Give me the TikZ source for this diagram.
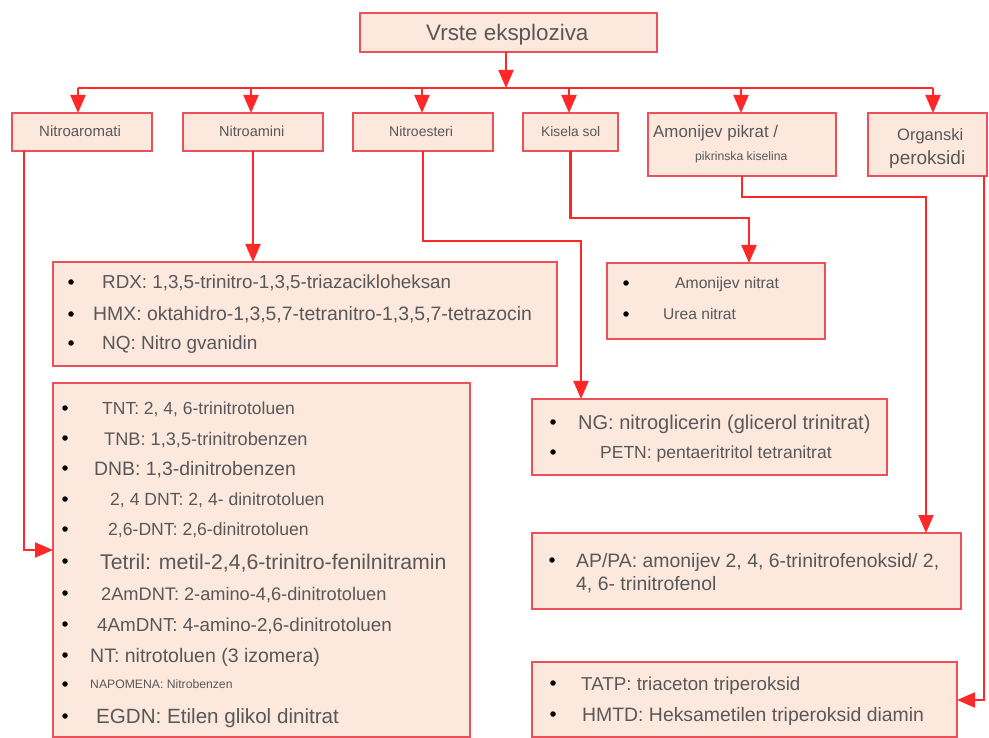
\documentclass[tikz,border=0pt]{standalone}
\usepackage{fontspec}
\setmainfont{Liberation Sans}
\usetikzlibrary{arrows.meta}
\definecolor{linered}{RGB}{255,40,40}
\definecolor{boxred}{RGB}{238,80,90}
\definecolor{boxfill}{RGB}{253,232,222}
\definecolor{txt}{RGB}{88,88,88}
\tikzset{
  box/.style={draw=boxred, fill=boxfill, line width=2.3pt, inner sep=0pt, outer sep=0pt, rectangle},
  arr/.style={draw=linered, line width=2.2pt, -{Triangle[length=18pt,width=15pt]}},
  busline/.style={draw=linered, line width=2.2pt},
  lbl/.style={anchor=base west, inner sep=0pt, text=txt},
  dot/.style={circle, fill=black, inner sep=0pt, minimum size=5.5pt},
}
\newcommand\fs[1]{\fontsize{#1}{#1}\selectfont}
\newcommand\mkbox[5]{\node[box, minimum width={#4-#2}, minimum height={#5-#3}] (#1) at ({(#2+#4)/2},{(#3+#5)/2}) {};}
\begin{document}
\begin{tikzpicture}[x=1pt,y=-1pt]
\useasboundingbox (0,0) rectangle (989,738);
% boxes
\mkbox{title}{360}{13}{657}{52}
\mkbox{nar}{12}{113}{152}{151}
\mkbox{nam}{183}{113}{323}{151}
\mkbox{nes}{353}{113}{493}{151}
\mkbox{ks}{523}{113}{618}{151}
\mkbox{ap}{648}{113}{836}{176}
\mkbox{op}{868}{113}{987}{176}
\mkbox{rdx}{53}{262}{557}{366}
\mkbox{tnt}{53}{383}{470}{737}
\mkbox{an}{607}{263}{825}{339}
\mkbox{ng}{532}{399}{887}{475}
\mkbox{appa}{532}{533}{961}{609}
\mkbox{tatp}{532}{662}{957}{737}
% bus
\coordinate (b0) at (506,88);
\coordinate (b1) at (78,88);
\coordinate (b2) at (251,88);
\coordinate (b3) at (422,88);
\coordinate (b4) at (569,88);
\coordinate (b5) at (741,88);
\coordinate (b6) at (933,88);
\draw[busline] (b1) -- (b6);
\draw[arr] (title.south -| b0) -- (b0);
\draw[arr] (b1) -- (b1 |- nar.north);
\draw[arr] (b2) -- (b2 |- nam.north);
\draw[arr] (b3) -- (b3 |- nes.north);
\draw[arr] (b4) -- (b4 |- ks.north);
\draw[arr] (b5) -- (b5 |- ap.north);
\draw[arr] (b6) -- (b6 |- op.north);
% connectors down
\coordinate (k1) at (24,550);
\draw[arr] (nar.south -| k1) -- (k1) -- (k1 -| tnt.west);
\draw[arr] (nam.south) -- (nam.south |- rdx.north);
\coordinate (k3) at (581,241);
\draw[arr] (nes.south) |- (k3) -- (k3 |- ng.north);
\coordinate (k4) at (749,218);
\draw[arr] (ks.south) |- (k4) -- (k4 |- an.north);
\coordinate (k5) at (926,197);
\draw[arr] (ap.south) |- (k5) -- (k5 |- appa.north);
\coordinate (k6) at (984,700);
\draw[arr] (k6 |- op.south) -- (k6) -- (k6 -| tatp.east);
% titles
\node[lbl] (t0) at (426,41) {\fs{22.4}Vrste eksploziva};
\node[lbl] (c1) at (39,137) {\fs{15}Nitroaromati};
\node[lbl] (c2) at (219,137) {\fs{14.5}Nitroamini};
\node[lbl] (c3) at (389,137) {\fs{14}Nitroesteri};
\node[lbl] (c4) at (541,137) {\fs{13.8}Kisela sol};
\node[lbl] (c5) at (653,138) {\fs{16.9}Amonijev pikrat /};
\node[lbl] (c5b) at (695,161) {\fs{12.2}pikrinska kiselina};
\node[lbl] (c6) at (897,141) {\fs{16.5}Organski};
\node[lbl] (c6b) at (889,165) {\fs{19}peroksidi};
% RDX box
\node[dot] (d1) at (71,282) {};
\node[dot] (d2) at (71,314) {};
\node[dot] (d3) at (71,343) {};
\node[lbl] (r1) at (102,289) {\fs{18.8}RDX: 1,3,5-trinitro-1,3,5-triazacikloheksan};
\node[lbl] (r2) at (93,321) {\fs{19.4}HMX: oktahidro-1,3,5,7-tetranitro-1,3,5,7-tetrazocin};
\node[lbl] (r3) at (102,350) {\fs{19}NQ: Nitro gvanidin};
% big box
\foreach \yy [count=\i] in {408,438,468,499,529,561,593,624,655,684,716}
  \node[dot] (e\i) at (65,\yy) {};
\node[lbl] (n1) at (102,414) {\fs{17.5}TNT: 2, 4, 6-trinitrotoluen};
\node[lbl] (n2) at (104,445) {\fs{18.2}TNB: 1,3,5-trinitrobenzen};
\node[lbl] (n3) at (94,475) {\fs{19.4}DNB: 1,3-dinitrobenzen};
\node[lbl] (n4) at (110,505) {\fs{17.6}2, 4 DNT: 2, 4- dinitrotoluen};
\node[lbl] (n5) at (108,535) {\fs{17.6}2,6-DNT: 2,6-dinitrotoluen};
\node[lbl] (n6) at (100,569) {\fs{21.3}Tetril: metil-2,4,6-trinitro-fenilnitramin};
\node[lbl] (n7) at (101,600) {\fs{18.2}2AmDNT: 2-amino-4,6-dinitrotoluen};
\node[lbl] (n8) at (97,631) {\fs{18.8}4AmDNT: 4-amino-2,6-dinitrotoluen};
\node[lbl] (n9) at (90,662) {\fs{19.5}NT: nitrotoluen (3 izomera)};
\node[lbl] (n10) at (90,688) {\fs{12.2}NAPOMENA: Nitrobenzen};
\node[lbl] (n11) at (96,723) {\fs{20.6}EGDN: Etilen glikol dinitrat};
% Amonijev nitrat box
\node[dot] (f1) at (626,283) {};
\node[dot] (f2) at (626,314) {};
\node[lbl] (s1) at (675,289) {\fs{15.7}Amonijev nitrat};
\node[lbl] (s2) at (663,320) {\fs{15.6}Urea nitrat};
% NG box
\node[dot] (g1) at (553,422) {};
\node[dot] (g2) at (553,452) {};
\node[lbl] (m1) at (578,429) {\fs{20}NG: nitroglicerin (glicerol trinitrat)};
\node[lbl] (m2) at (600,458) {\fs{17.5}PETN: pentaeritritol tetranitrat};
% AP/PA box
\node[dot] (h1) at (552,560) {};
\node[lbl] (p1) at (576,567) {\fs{19.4}AP/PA: amonijev 2, 4, 6-trinitrofenoksid/ 2,};
\node[lbl] (p2) at (576,590) {\fs{19.4}4, 6- trinitrofenol};
% TATP box
\node[dot] (i1) at (553,683) {};
\node[dot] (i2) at (553,714) {};
\node[lbl] (q1) at (581,690) {\fs{18.75}TATP: triaceton triperoksid};
\node[lbl] (q2) at (582,721) {\fs{19.4}HMTD: Heksametilen triperoksid diamin};
\end{tikzpicture}
\end{document}
